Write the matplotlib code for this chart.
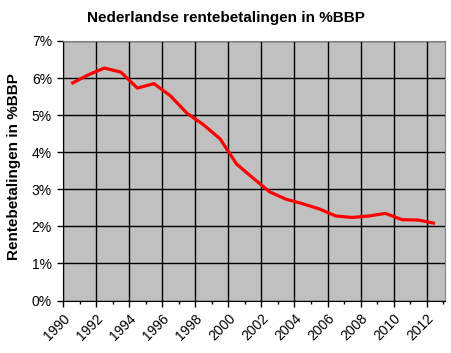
import numpy as np
import matplotlib
matplotlib.use("Agg")
import matplotlib.pyplot as plt
from matplotlib.ticker import FuncFormatter, MultipleLocator

# annual values, plotted mid-year
years = np.arange(1990, 2013)
rente = [5.85, 6.08, 6.27, 6.16, 5.73, 5.85, 5.52, 5.05, 4.74, 4.36, 3.68, 3.30,
         2.93, 2.73, 2.61, 2.47, 2.28, 2.24, 2.28, 2.35, 2.18, 2.17, 2.08]
xticks = np.arange(1990, 2013, 2)

plt.rcParams["font.family"] = ["Liberation Sans", "DejaVu Sans"]

fig = plt.figure(figsize=(4.52, 3.53), dpi=100)
ax = fig.add_axes([0.1394, 0.1487, 0.845, 0.7352])
ax.set_facecolor("#C0C0C0")

ax.plot(years + 0.5, rente, color="#FF0000", linewidth=2.3, solid_capstyle="butt")

ax.set_xlim(1990, 2013.1)
ax.set_ylim(0, 7)
ax.set_xticks(xticks)
ax.set_xticklabels([str(y) for y in xticks], rotation=45, ha="right",
                   rotation_mode="anchor", fontsize=10)
ax.xaxis.set_minor_locator(MultipleLocator(1))
ax.yaxis.set_major_locator(MultipleLocator(1))
ax.yaxis.set_major_formatter(FuncFormatter(lambda v, p: f"{int(round(v))}%"))
ax.tick_params(axis="y", labelsize=10, direction="out", length=4, width=1, pad=4)
ax.tick_params(axis="x", which="major", direction="out", length=4, width=1, pad=4)
ax.tick_params(axis="x", which="minor", direction="out", length=2, width=1)

ax.grid(True, which="major", color="black", linewidth=1)
ax.set_axisbelow(True)
for s in ["top", "right"]:
    ax.spines[s].set_color("#808080")
for s in ["left", "bottom"]:
    ax.spines[s].set_color("black")

ax.set_ylabel("Rentebetalingen in %BBP", fontsize=11, fontweight="bold")
ax.yaxis.set_label_coords(-0.11, 0.515)
fig.suptitle("Nederlandse rentebetalingen in %BBP", fontsize=11,
             fontweight="bold", y=0.97)

fig.savefig("out.png", dpi=100)
